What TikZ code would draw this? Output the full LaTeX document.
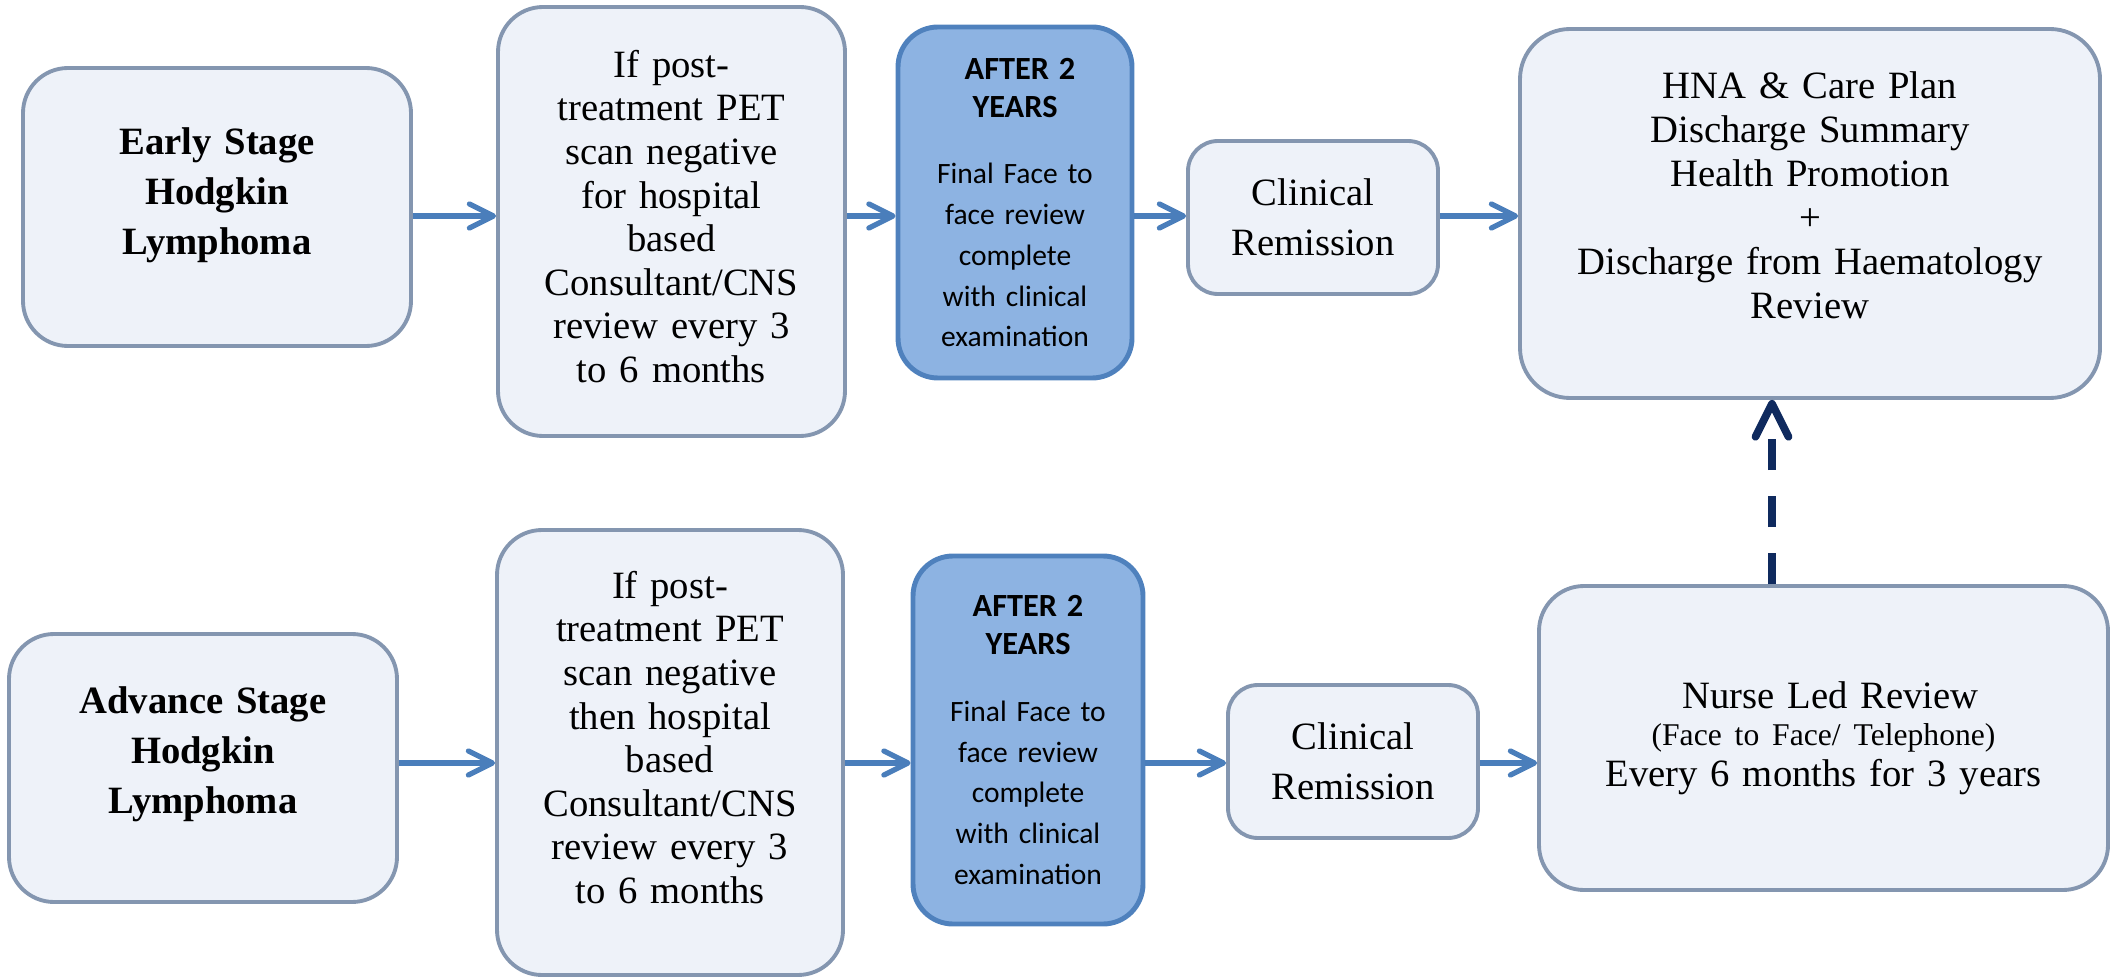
\documentclass[tikz,border=0pt]{standalone}
\usepackage{fontspec}
\setmainfont{Liberation Serif}
\newfontfamily\calibri{Carlito}
\usetikzlibrary{arrows.meta}

\definecolor{boxfill}{HTML}{EEF2F9}
\definecolor{boxline}{HTML}{8496B0}
\definecolor{yearfill}{HTML}{8DB3E2}
\definecolor{yearline}{HTML}{4F81BD}
\definecolor{flowblue}{HTML}{4A7EBB}
\definecolor{navy}{HTML}{0F2A5E}

\tikzset{
	softbox/.style={draw=boxline, line width=1.1pt, fill=boxfill, rounded corners=4.5mm, align=center, inner sep=0pt, font=\fontsize{11}{12.4}\selectfont},
	stagebox/.style={softbox, font=\bfseries\fontsize{11}{14.2}\selectfont},
	yearbox/.style={draw=yearline, line width=1.4pt, fill=yearfill, rounded corners=4mm, align=center, inner sep=0pt, text width=2.1cm, font=\calibri\fontsize{8.4}{11.6}\selectfont},
	flow/.style={flowblue, line width=1.5pt, -{Straight Barb[round, length=2.4mm, width=2.4mm]}},
	dasharrow/.style={navy, line width=2.2pt, dash pattern=on 3.1mm off 2.6mm, -{Straight Barb[round, length=3.3mm, width=3.3mm]}}
}

\newcommand{\aftertext}{{\bfseries\fontsize{9.2}{10.8}\selectfont AFTER 2\\YEARS\par}\vspace{7.4pt}Final Face to\\face review\\complete\\with clinical\\examination}

\begin{document}
\begin{tikzpicture}
	\useasboundingbox (0,0) rectangle (21.13,-9.79);

	% early stage row
	\node[stagebox, minimum width=3.88cm, minimum height=2.78cm, text width=3.6cm] (early) at (2.17,-2.07) {Early Stage\\Hodgkin\\Lymphoma\par\kern2.4mm};
	\node[softbox, minimum width=3.47cm, minimum height=4.29cm, text width=3.2cm] (pet1) at (6.715,-2.215) {If post-\\treatment PET\\scan negative\\for hospital\\based\\Consultant/CNS\\review every 3\\to 6 months\par\kern1mm};
	\node[yearbox, minimum width=2.34cm, minimum height=3.51cm] (after1) at (10.15,-2.025) {\kern1mm\aftertext};
	\node[softbox, rounded corners=3mm, minimum width=2.5cm, minimum height=1.53cm, text width=2.3cm, font=\fontsize{11}{14.2}\selectfont] (clin1) at (13.13,-2.175) {Clinical\\Remission};
	\node[softbox, rounded corners=5mm, minimum width=5.8cm, minimum height=3.69cm, text width=5.4cm, font=\fontsize{11}{12.5}\selectfont] (hna) at (18.10,-2.135) {HNA \& Care Plan\\Discharge Summary\\Health Promotion\\+\\Discharge from Haematology\\Review\par\kern3.6mm};

	% advance stage row
	\node[stagebox, minimum width=3.88cm, minimum height=2.68cm, text width=3.6cm] (adv) at (2.03,-7.68) {Advance Stage\\Hodgkin\\Lymphoma\par\kern2.8mm};
	\node[softbox, minimum width=3.46cm, minimum height=4.45cm, text width=3.2cm] (pet2) at (6.70,-7.525) {If post-\\treatment PET\\scan negative\\then hospital\\based\\Consultant/CNS\\review every 3\\to 6 months\par\kern3mm};
	\node[yearbox, minimum width=2.30cm, minimum height=3.68cm] (after2) at (10.28,-7.40) {\aftertext};
	\node[softbox, rounded corners=3mm, minimum width=2.5cm, minimum height=1.53cm, text width=2.3cm, font=\fontsize{11}{14.2}\selectfont] (clin2) at (13.53,-7.615) {Clinical\\Remission};
	\node[softbox, minimum width=5.69cm, minimum height=3.04cm, text width=5.4cm, font=\fontsize{11}{11.6}\selectfont] (nurse) at (18.235,-7.38) {\kern1.4mm Nurse Led Review\par{\fontsize{9}{10.5}\selectfont(Face to Face/ Telephone)\par}Every 6 months for 3 years};

	\coordinate (row1) at (0,-2.16);
	\coordinate (row2) at (0,-7.63);

	% arrows along each row
	\foreach \a/\b in {early/pet1, pet1/after1, after1/clin1, clin1/hna}
	\draw[flow] (\a.east |- row1) -- (\b.west |- row1);
	\foreach \a/\b in {adv/pet2, pet2/after2, after2/clin2, clin2/nurse}
	\draw[flow] (\a.east |- row2) -- (\b.west |- row2);

	% nurse review up to discharge
	\draw[dasharrow] ([xshift=-5.15mm]nurse.north) -- ([xshift=-5.15mm]nurse.north |- hna.south);
\end{tikzpicture}
\end{document}
